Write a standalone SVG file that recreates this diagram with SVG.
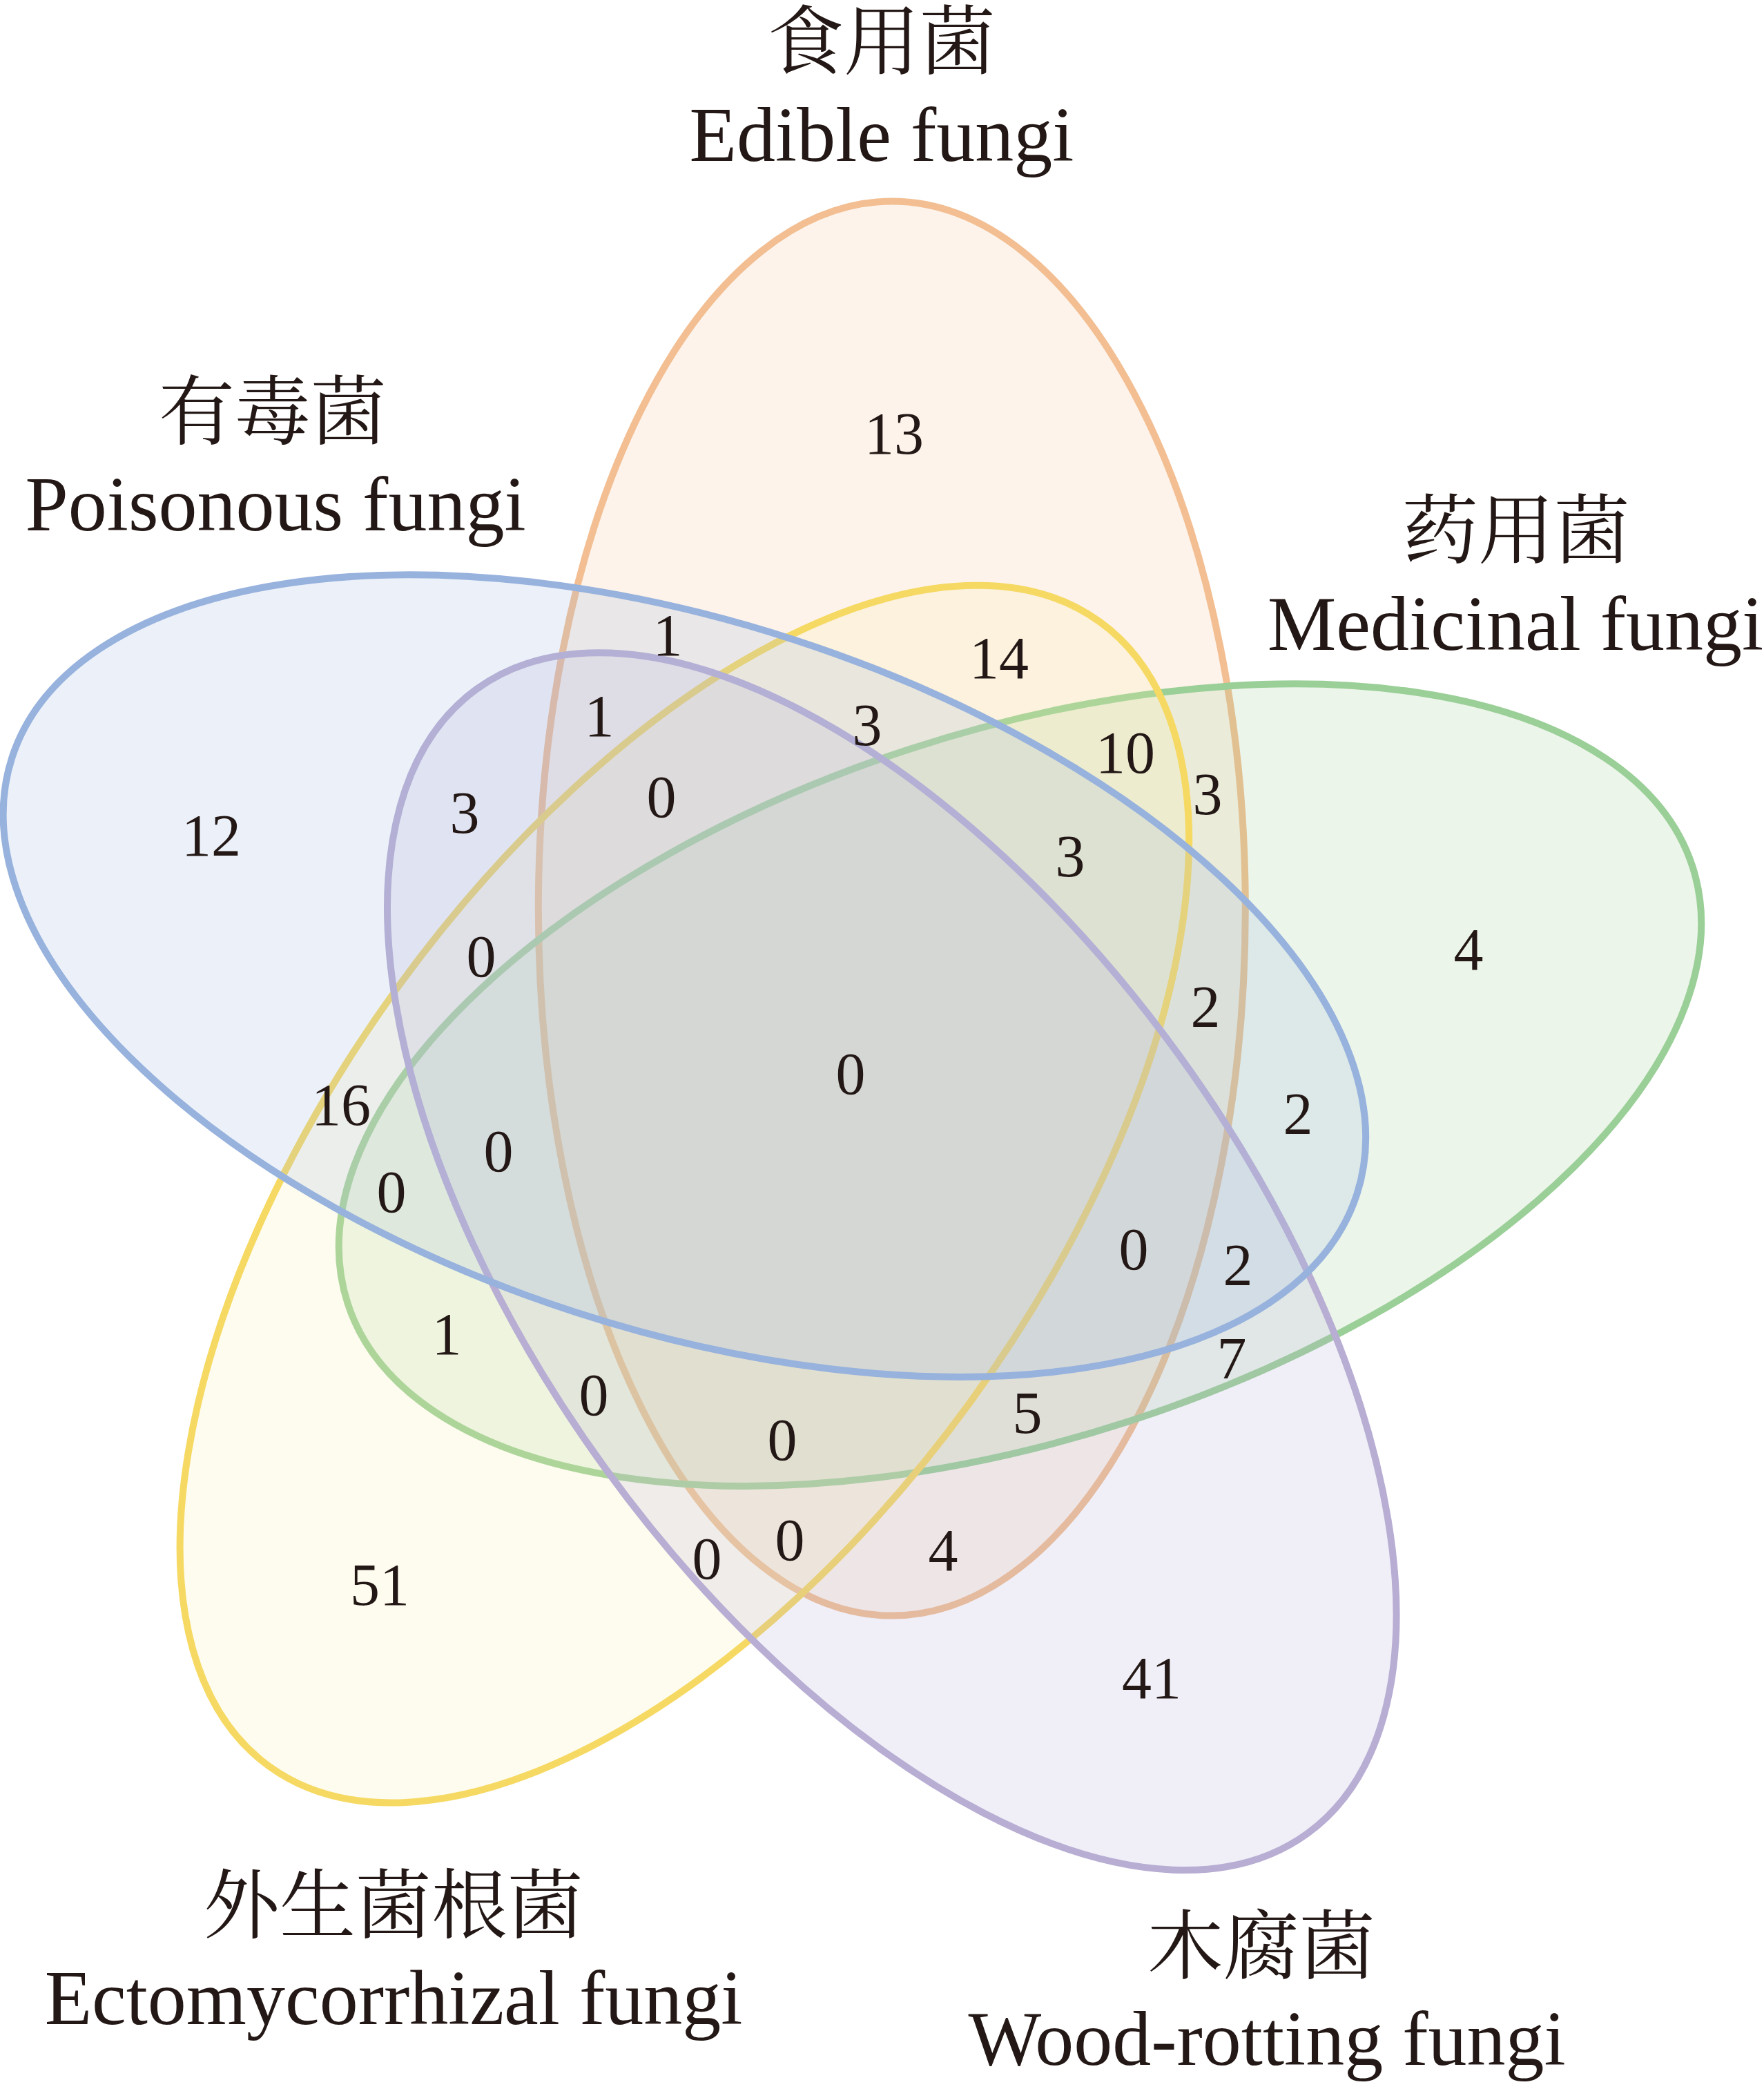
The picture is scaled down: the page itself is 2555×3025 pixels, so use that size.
<svg xmlns="http://www.w3.org/2000/svg" width="2555" height="3025" viewBox="0 0 2555 3025">
<style>
.set{stroke-width:10}
.num{font-family:'Liberation Serif','Times New Roman',serif;font-size:86px;fill:#231815;text-anchor:middle}
.en{font-family:'Liberation Serif','Times New Roman',serif;font-size:112px;fill:#231815;text-anchor:middle}
.cn{font-family:'Liberation Serif','Noto Serif CJK SC','Noto Sans CJK SC',serif;font-size:110px;fill:#231815;text-anchor:middle}
</style>
<rect width="2555" height="3025" fill="#ffffff"/>
<g id="set-edible">
<ellipse class="set" cx="1291.8" cy="1315.6" rx="1024" ry="512" transform="rotate(90 1291.8 1315.6)" fill="rgba(245,195,150,0.2)" stroke="#F2BE92"/>
</g>
<g id="set-medicinal">
<ellipse class="set" cx="1477.5" cy="1571.1" rx="1024" ry="512" transform="rotate(-18 1477.5 1571.1)" fill="rgba(160,205,150,0.2)" stroke="#9ACF97"/>
</g>
<g id="set-ectomycorrhizal">
<ellipse class="set" cx="991.4" cy="1729.1" rx="1024" ry="512" transform="rotate(-54 991.4 1729.1)" fill="rgba(250,240,170,0.2)" stroke="#F6D963"/>
</g>
<g id="set-woodrotting">
<ellipse class="set" cx="1291.8" cy="1826.6" rx="1024" ry="512" transform="rotate(54 1291.8 1826.6)" fill="rgba(180,175,215,0.2)" stroke="#B8ADD3"/>
</g>
<g id="set-poisonous">
<ellipse class="set" cx="991.4" cy="1413.1" rx="1024" ry="512" transform="rotate(18 991.4 1413.1)" fill="rgba(160,185,225,0.2)" stroke="#97B2DD"/>
</g>
<g id="labels">
<g id="label-edible">
<text class="cn" x="1277" y="99">食用菌</text>
<text class="en" x="1277" y="233">Edible fungi</text>
</g>
<g id="label-poisonous">
<text class="cn" x="395" y="635">有毒菌</text>
<text class="en" x="399" y="768">Poisonous fungi</text>
</g>
<g id="label-medicinal">
<text class="cn" x="2196" y="807">药用菌</text>
<text class="en" x="2195" y="941">Medicinal fungi</text>
</g>
<g id="label-ectomycorrhizal">
<text class="cn" x="570" y="2798">外生菌根菌</text>
<text class="en" x="570" y="2931">Ectomycorrhizal fungi</text>
</g>
<g id="label-woodrotting">
<text class="cn" x="1827" y="2857">木腐菌</text>
<text class="en" x="1835" y="2990">Wood-rotting fungi</text>
</g>
</g>
<g id="counts" class="num">
<text class="num" x="1295" y="657">13</text>
<text class="num" x="967" y="949">1</text>
<text class="num" x="1447" y="982">14</text>
<text class="num" x="868" y="1066">1</text>
<text class="num" x="1256" y="1079">3</text>
<text class="num" x="1630" y="1119">10</text>
<text class="num" x="1749" y="1179">3</text>
<text class="num" x="958" y="1183">0</text>
<text class="num" x="673" y="1206">3</text>
<text class="num" x="306" y="1239">12</text>
<text class="num" x="1550" y="1269">3</text>
<text class="num" x="2127" y="1404">4</text>
<text class="num" x="697" y="1414">0</text>
<text class="num" x="1746" y="1487">2</text>
<text class="num" x="1232" y="1584">0</text>
<text class="num" x="494" y="1629">16</text>
<text class="num" x="1880" y="1642">2</text>
<text class="num" x="722" y="1696">0</text>
<text class="num" x="567" y="1755">0</text>
<text class="num" x="1642" y="1838">0</text>
<text class="num" x="1793" y="1861">2</text>
<text class="num" x="647" y="1961">1</text>
<text class="num" x="1784" y="1996">7</text>
<text class="num" x="860" y="2049">0</text>
<text class="num" x="1488" y="2075">5</text>
<text class="num" x="1133" y="2114">0</text>
<text class="num" x="1144" y="2259">0</text>
<text class="num" x="1024" y="2286">0</text>
<text class="num" x="1366" y="2274">4</text>
<text class="num" x="550" y="2324">51</text>
<text class="num" x="1668" y="2459">41</text>
</g>
</svg>
